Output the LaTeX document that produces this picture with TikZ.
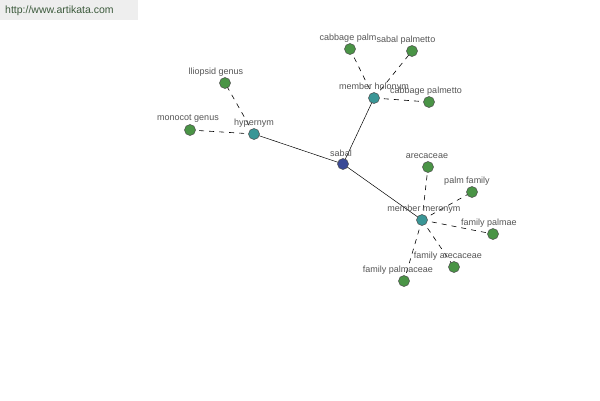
\documentclass[tikz,border=0pt]{standalone}
\usepackage{fontspec}
\setmainfont{Liberation Sans}
\definecolor{navyn}{HTML}{3A4A96}
\definecolor{tealn}{HTML}{3A9696}
\definecolor{greenn}{HTML}{4A9446}
\definecolor{hdr}{HTML}{EEEEEE}
\definecolor{hdrtext}{HTML}{3C5A3C}
\definecolor{lbl}{HTML}{555555}
\tikzset{
  vtx/.style={circle,draw=black!70,line width=0.5pt,minimum size=11pt,inner sep=0pt},
  hub/.style={vtx,fill=tealn},
  leaf/.style={vtx,fill=greenn},
  root/.style={vtx,fill=navyn},
  lab/.style={font=\fontsize{9}{10}\selectfont,text=lbl,inner sep=0pt},
  solidedge/.style={draw=black,line width=0.5pt},
  dashedge/.style={draw=black,line width=0.6pt,dash pattern=on 5pt off 5pt}
}
\begin{document}
\begin{tikzpicture}[x=1pt,y=-1pt]
\useasboundingbox (0,0) rectangle (600,400);
\fill[white] (0,0) rectangle (600,400);
\fill[hdr] (0,0) rectangle (138,20);
\node[font=\fontsize{10.5}{12}\selectfont,text=hdrtext,anchor=west,inner sep=0pt] (url) at (5,11) {http://www.artikata.com};
% vertex positions
\coordinate (sabalc) at (343,164);
\coordinate (hyperc) at (254,134);
\coordinate (holoc) at (374,98);
\coordinate (meroc) at (422,220);
\coordinate (liloc) at (225,83);
\coordinate (monoc) at (190,130);
\coordinate (cpalmc) at (350,49);
\coordinate (spalmc) at (412,51);
\coordinate (cpalmettoc) at (429,102);
\coordinate (arecc) at (428,167);
\coordinate (pfamc) at (472,192);
\coordinate (fpalmaec) at (493,234);
\coordinate (farecc) at (454,267);
\coordinate (fpalmacc) at (404,281);
% edges
\draw[solidedge] (sabalc) -- (hyperc);
\draw[solidedge] (sabalc) -- (holoc);
\draw[solidedge] (sabalc) -- (meroc);
\draw[dashedge] (hyperc) -- (liloc);
\draw[dashedge] (hyperc) -- (monoc);
\draw[dashedge] (holoc) -- (cpalmc);
\draw[dashedge] (holoc) -- (spalmc);
\draw[dashedge] (holoc) -- (cpalmettoc);
\draw[dashedge] (meroc) -- (arecc);
\draw[dashedge] (meroc) -- (pfamc);
\draw[dashedge] (meroc) -- (fpalmaec);
\draw[dashedge] (meroc) -- (farecc);
\draw[dashedge] (meroc) -- (fpalmacc);
% vertices
\node[root] (sabal) at (sabalc) {};
\node[hub] (hyper) at (hyperc) {};
\node[hub] (holo) at (holoc) {};
\node[hub] (mero) at (meroc) {};
\node[leaf] (lilo) at (liloc) {};
\node[leaf] (mono) at (monoc) {};
\node[leaf] (cpalm) at (cpalmc) {};
\node[leaf] (spalm) at (spalmc) {};
\node[leaf] (cpalmetto) at (cpalmettoc) {};
\node[leaf] (arec) at (arecc) {};
\node[leaf] (pfam) at (pfamc) {};
\node[leaf] (fpalmae) at (fpalmaec) {};
\node[leaf] (farec) at (farecc) {};
\node[leaf] (fpalmac) at (fpalmacc) {};
% labels
\node[lab] (sabalL) at (341,153) {sabal};
\node[lab] (hyperL) at (254,123) {hypernym};
\node[lab] (holoL) at (374,87) {member holonym};
\node[lab] (meroL) at (424,209) {member meronym};
\node[lab] (liloL) at (216,72) {lliopsid genus};
\node[lab] (monoL) at (188,119) {monocot genus};
\node[lab] (cpalmL) at (348,38) {cabbage palm};
\node[lab] (spalmL) at (406,40) {sabal palmetto};
\node[lab] (cpalmettoL) at (426,91) {cabbage palmetto};
\node[lab] (arecL) at (427,156) {arecaceae};
\node[lab] (pfamL) at (467,181) {palm family};
\node[lab] (fpalmaeL) at (489,223) {family palmae};
\node[lab] (farecL) at (448,256) {family arecaceae};
\node[lab] (fpalmacL) at (398,270) {family palmaceae};
\end{tikzpicture}
\end{document}
